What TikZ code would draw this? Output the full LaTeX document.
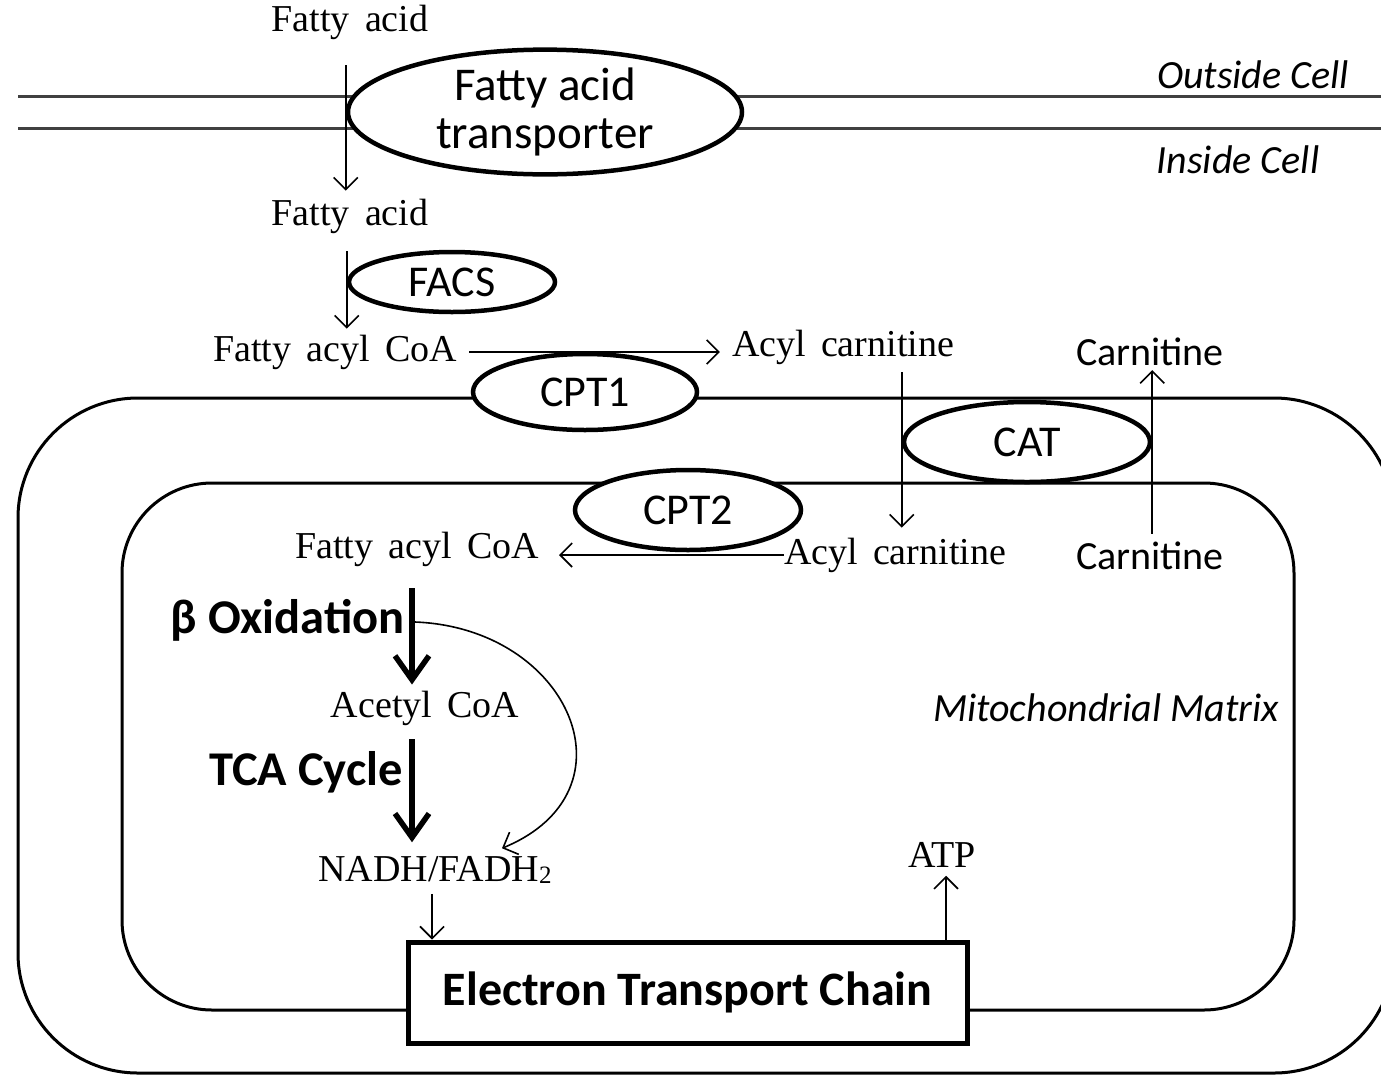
\documentclass[tikz,border=0pt]{standalone}
\usepackage{fontspec}
\setmainfont{Liberation Serif}
\newfontfamily\cali{Carlito}
\newfontfamily\tms[WordSpace=1.6]{Liberation Serif}
\usetikzlibrary{shapes.geometric,arrows.meta}
\tikzset{
  enz/.style={ellipse,draw,line width=4.5pt,fill=white,inner sep=0pt,font=\cali\fontsize{44}{48}\selectfont},
  chem/.style={inner sep=0pt,font=\tms\fontsize{38}{42}\selectfont},
  cari/.style={inner sep=0pt,font=\cali\fontsize{40}{44}\selectfont},
  place/.style={inner sep=0pt,font=\cali\itshape\fontsize{40}{44}\selectfont},
  stage/.style={inner sep=0pt,anchor=east,font=\cali\bfseries\fontsize{48.5}{52}\selectfont},
  memb/.style={line width=3pt},
  arr/.style={line width=1.6pt,-{Straight Barb[length=12pt,width=24pt,line width=1.6pt]}},
  bigarr/.style={line width=5.5pt,-{Straight Barb[length=24pt,width=34pt,line width=5.5pt]}}
}
\begin{document}
\begin{tikzpicture}[x=1pt,y=-1pt]
\useasboundingbox (0,0) rectangle (1381,1077);
\clip (0,0) rectangle (1381,1077);
\draw[memb,black!75] (18,96)--(1381,96);
\draw[memb,black!75] (18,128)--(1381,128);
\draw[memb,rounded corners=120pt] (18,398) rectangle (1394,1073);
\draw[memb,rounded corners=90pt] (122,483) rectangle (1294,1010);
\node[chem] (fa1) at (350,22) {Fatty acid};
\node[enz,minimum width=394pt,minimum height=96pt,align=center,font=\cali\fontsize{47}{48}\selectfont] (tr) at (545,112) {Fatty acid\\transporter};
\node[place] (out) at (1253,75) {Outside Cell};
\node[place] (in) at (1238,160) {Inside Cell};
\node[chem] (fa2) at (350,216) {Fatty acid};
\node[enz,minimum width=206pt,minimum height=60pt] (facs) at (452,282) {FACS};
\node[chem] (facoa1) at (335,352) {Fatty acyl CoA};
\node[chem] (acarn1) at (843,347) {Acyl carnitine};
\node[cari] (carn1) at (1150,352) {Carnitine};
\node[enz,minimum width=224pt,minimum height=76pt] (cpt1) at (585,392) {CPT1};
\node[enz,minimum width=246pt,minimum height=80pt] (cat) at (1027,442) {CAT};
\node[enz,minimum width=226pt,minimum height=80pt] (cpt2) at (688,510) {CPT2};
\node[chem] (facoa2) at (417,549) {Fatty acyl CoA};
\node[chem] (acarn2) at (895,555) {Acyl carnitine};
\node[cari] (carn2) at (1150,556) {Carnitine};
\node[stage] (box) at (405,620) {β Oxidation};
\node[chem] (acetyl) at (425,708) {Acetyl CoA};
\node[stage] (tca) at (403,772) {TCA Cycle};
\node[chem] (nadh) at (435,870) {NADH/FADH\raisebox{-2pt}{\fontsize{25}{25}\selectfont 2}};
\node[chem] (atp) at (942,855) {ATP};
\node[place] (mat) at (1106,708) {Mitochondrial Matrix};
\node[draw,line width=5pt,fill=white,minimum width=559pt,minimum height=101pt,font=\cali\bfseries\fontsize{48}{52}\selectfont] (etc) at (687.5,992.5) {Electron Transport Chain};
\draw[arr,shorten <=26pt,shorten >=8pt] (fa1.south -| tr.west) -- (fa2.north -| tr.west);
\draw[arr,shorten <=18pt,shorten >=6pt] (fa2.south -| facs.west) -- (facoa1.north -| facs.west);
\draw[arr,shorten <=12pt,shorten >=12pt] (facoa1.east) -- (facoa1.east -| acarn1.west);
\draw[arr,shorten <=8pt,shorten >=10pt] (cat.west |- acarn1.south) -- (cat.west |- acarn2.north);
\draw[arr,shorten <=8pt,shorten >=4pt] (cat.east |- carn2.north) -- (cat.east |- carn1.south);
\draw[arr,shorten >=20pt] (acarn2.west) -- (acarn2.west -| facoa2.east);
\draw[bigarr,shorten <=22pt,shorten >=6pt] ([xshift=7pt]box.east |- facoa2.south) -- ([xshift=7pt]box.east |- acetyl.north);
\draw[bigarr,shorten <=14pt,shorten >=14pt] ([xshift=9pt]tca.east |- acetyl.south) -- ([xshift=9pt]tca.east |- nadh.north);
\draw[arr] ([xshift=10pt,yshift=-2pt]box.east) .. controls +(155,6) and +(138,-57) .. ([xshift=67pt,yshift=8pt]nadh.north);
\draw[arr,shorten <=10pt] ([xshift=-3pt]nadh.south) -- ([xshift=-3pt]nadh.south |- etc.north);
\draw[arr,shorten >=8pt] ([xshift=4pt]atp.south |- etc.north) -- ([xshift=4pt]atp.south);
\end{tikzpicture}
\end{document}
